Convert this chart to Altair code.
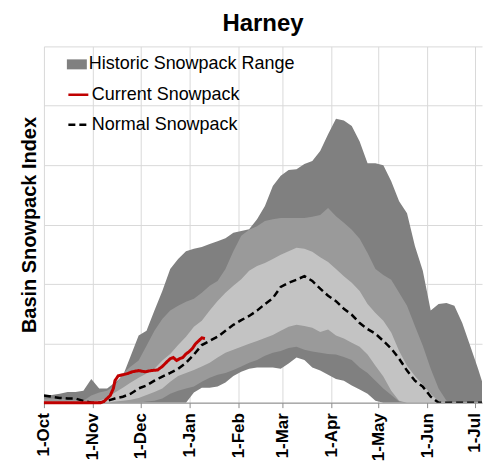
import altair as alt
import pandas as pd

FONT = "Liberation Sans"

# day index from 1-Oct
days = [0, 5, 10, 15, 20, 25, 30, 35, 40, 45, 50, 55, 60, 65, 70, 75, 80, 85, 90, 95,
        100, 105, 110, 115, 120, 125, 130, 135, 140, 145, 150, 155, 160, 165, 170, 175,
        180, 185, 190, 195, 200, 205, 210, 215, 220, 225, 230, 235, 240, 245, 250, 255,
        260, 265, 270, 275, 280, 283]

hist_max = [1.2, 1.3, 1.5, 1.8, 1.8, 2.0, 4.0, 2.4, 2.4, 3.4, 4.5, 7.9, 11.3, 12.1, 15.5, 18.8,
            22.5, 24.2, 25.5, 25.9, 26.2, 26.7, 27.2, 27.7, 28.6, 28.9, 29.2, 30.9, 33.1, 36.5,
            38.2, 39.2, 39.3, 40.2, 40.7, 42.4, 45.2, 47.8, 47.5, 46.6, 44.0, 40.3, 40.3, 40.0,
            37.3, 33.9, 31.9, 26.4, 22.2, 15.5, 16.6, 16.8, 16.3, 13.4, 9.6, 5.7, 1.5, 0]

p90 = [0.7, 0.7, 0.7, 0.5, 0.5, 0.3, 1.2, 1.7, 2.0, 2.9, 4.9, 6.1, 7.1, 9.6, 12.1, 14.1,
       15.5, 16.3, 17.0, 17.5, 18.5, 19.7, 20.5, 22.5, 25.5, 28.1, 29.1, 29.7, 30.6, 30.9,
       31.1, 31.1, 31.1, 31.1, 31.3, 31.6, 32.8, 31.4, 30.3, 29.1, 27.6, 25.2, 22.5, 21.5,
       20.7, 18.5, 16.3, 12.9, 9.6, 5.7, 2.4, 0.3, 0, 0, 0, 0, 0, 0]

p70 = [0.2, 0.2, 0.2, 0.2, 0.2, 0.2, 0.2, 0.3, 0.8, 1.7, 2.5, 3.4, 4.2, 4.9, 5.7, 7.1,
       8.2, 9.7, 11.1, 12.8, 13.8, 15.5, 17.1, 18.5, 19.7, 20.8, 22.2, 23.0, 23.5, 24.2,
       24.9, 25.5, 26.1, 25.9, 25.4, 24.5, 23.7, 22.5, 21.3, 20.2, 18.8, 16.6, 15.1, 13.8,
       11.8, 8.7, 6.2, 4.5, 3.0, 1.5, 0.2, 0, 0, 0, 0, 0, 0, 0]

p30 = [0, 0, 0, 0, 0, 0, 0, 0, 0, 0.2, 0.3, 0.5, 0.8, 1.3, 1.8, 2.4,
       3.5, 4.5, 5.0, 5.5, 6.1, 6.7, 7.6, 8.4, 8.9, 9.4, 9.9, 10.4, 10.9, 11.4,
       12.1, 12.8, 13.1, 12.9, 12.6, 11.9, 12.3, 11.3, 10.8, 10.1, 9.4, 8.1, 6.2, 4.4,
       2.0, 0.3, 0, 0, 0, 0, 0, 0, 0, 0, 0, 0, 0, 0]

p10 = [0, 0, 0, 0, 0, 0, 0, 0, 0, 0, 0, 0, 0, 0.2, 0.3, 0.7,
       1.5, 2.0, 2.4, 2.7, 3.5, 4.2, 4.7, 5.0, 5.5, 6.1, 6.7, 7.2, 7.9, 8.4,
       8.7, 9.2, 9.4, 8.9, 8.6, 8.4, 8.2, 8.1, 7.7, 7.2, 5.9, 5.0, 3.7, 2.4,
       1.3, 0.2, 0, 0, 0, 0, 0, 0, 0, 0, 0, 0, 0, 0]

hist_min = [0, 0, 0, 0, 0, 0, 0, 0, 0, 0, 0, 0, 0, 0, 0, 0,
            0, 0, 0, 1.7, 2.5, 2.5, 2.7, 3.4, 4.5, 5.2, 5.7, 5.9, 5.9, 5.9,
            5.7, 6.6, 7.6, 7.2, 5.9, 5.4, 4.7, 4.0, 3.7, 2.9, 2.2, 1.5, 0.3, 0,
            0, 0, 0, 0, 0, 0, 0, 0, 0, 0, 0, 0, 0, 0]

normal = [1.2, 1.0, 0.8, 0.7, 0.7, 0.3, 0, 0, 0.3, 0.7, 1.0, 1.5, 2.4, 2.9, 3.7, 4.4,
          5.0, 5.7, 6.7, 8.1, 9.7, 10.4, 11.1, 12.1, 13.1, 13.9, 14.6, 15.5, 16.6, 17.6,
          19.5, 20.2, 20.7, 21.3, 20.5, 19.2, 18.0, 17.1, 15.8, 14.8, 13.4, 12.4, 11.6, 10.4,
          9.1, 7.4, 5.4, 3.7, 2.7, 1.0, 0, 0, 0, 0, 0, 0, 0, 0]

cur_days = [0, 36, 38, 40, 42, 44, 45, 47, 50, 53, 56, 60, 64, 68, 72, 75, 78, 80, 82, 84,
            86, 88, 90, 92, 94, 96, 98, 100, 102]
cur_vals = [0, 0, 0.2, 0.7, 1.2, 2.4, 3.7, 4.5, 4.7, 4.9, 5.2, 5.4, 5.2, 5.4, 5.5, 6.1, 6.9,
            7.4, 7.6, 7.1, 7.4, 7.6, 8.2, 8.6, 9.1, 9.9, 10.4, 10.9, 10.8]

month_days = [0, 31, 61, 92, 123, 151, 182, 212, 243, 273]
month_labels = ["1-Oct", "1-Nov", "1-Dec", "1-Jan", "1-Feb", "1-Mar", "1-Apr", "1-May", "1-Jun", "1-Jul"]
y_grid = [0, 10, 20, 30, 40, 50, 60]

bands = pd.DataFrame({
    "day": days, "max": hist_max, "p90": p90, "p70": p70, "p30": p30, "p10": p10,
    "min": hist_min, "normal": normal,
    "label": "Historic Snowpack Range", "series": "Normal Snowpack",
})
cur = pd.DataFrame({"day": cur_days, "value": cur_vals, "series": "Current Snowpack"})

label_expr = ("[" + ",".join(f"'{l}'" for l in month_labels) + "][indexof(["
              + ",".join(str(d) for d in month_days) + "], datum.value)]")

xscale = alt.Scale(domain=[0, 277.5], nice=False, zero=False)
yscale = alt.Scale(domain=[0, 60], nice=False)

xaxis = alt.Axis(values=month_days, labelExpr=label_expr, labelAngle=-90, labelFont=FONT,
                 labelFontSize=17, labelFontWeight="bold", labelColor="black", tickSize=5,
                 tickColor="#8c8c8c", domainColor="#8c8c8c", gridColor="#d9d9d9", title=None,
                 labelPadding=5, labelOverlap=False, labelFlush=False)
yaxis = alt.Axis(values=y_grid, labels=False, ticks=False, domain=False, gridColor="#d9d9d9",
                 title="Basin Snowpack Index", titleFont=FONT, titleFontSize=20,
                 titleFontWeight="bold", titleColor="black", titlePadding=4)

leg_fill = alt.Legend(title=None, orient="none", legendX=23, legendY=8,
                      symbolType="M-1,-0.5H1V0.5H-1Z", symbolSize=400, symbolStrokeWidth=0,
                      labelFont=FONT, labelFontSize=18, labelColor="black", labelOffset=2,
                      padding=0, labelLimit=400)
leg_line = alt.Legend(title=None, orient="none", legendX=23, legendY=37, symbolType="stroke",
                      symbolSize=400, symbolStrokeWidth=2.5, labelFont=FONT, labelFontSize=18,
                      labelColor="black", labelOffset=2, rowPadding=9, padding=0, labelLimit=400)

stroke_scale = alt.Scale(domain=["Current Snowpack", "Normal Snowpack"], range=["#c00000", "#000000"])
dash_scale = alt.Scale(domain=["Current Snowpack", "Normal Snowpack"], range=[[1, 0], [7, 4]])

base = alt.Chart(bands)
dark = base.mark_area(opacity=1, clip=True).encode(
    x=alt.X("day:Q", scale=xscale, axis=xaxis),
    y=alt.Y("min:Q", scale=yscale, axis=yaxis),
    y2="max:Q",
    fill=alt.Fill("label:N", scale=alt.Scale(domain=["Historic Snowpack Range"], range=["#808080"]),
                  legend=leg_fill),
)
mid = base.mark_area(color="#9a9a9a", opacity=1, clip=True).encode(x="day:Q", y="p10:Q", y2="p90:Q")
light = base.mark_area(color="#c3c3c3", opacity=1, clip=True).encode(x="day:Q", y="p30:Q", y2="p70:Q")
norm = base.mark_line(strokeWidth=2.5, clip=True).encode(
    x="day:Q", y="normal:Q",
    stroke=alt.Stroke("series:N", scale=stroke_scale, legend=leg_line),
    strokeDash=alt.StrokeDash("series:N", scale=dash_scale, legend=leg_line),
)
current = alt.Chart(cur).mark_line(strokeWidth=3).encode(
    x="day:Q", y="value:Q",
    stroke=alt.Stroke("series:N", scale=stroke_scale, legend=leg_line),
    strokeDash=alt.StrokeDash("series:N", scale=dash_scale, legend=leg_line),
)

chart = alt.layer(dark, mid, light, norm, current).properties(
    width=439, height=357,
    padding={"left": 12, "top": 4, "right": 0, "bottom": 0},
    title=alt.Title("Harney", font=FONT, fontSize=24, fontWeight="bold", color="black",
                    offset=10, anchor="middle"),
).configure_view(strokeWidth=0)

chart.save("out.html", embed_options={"renderer": "svg", "actions": False})
